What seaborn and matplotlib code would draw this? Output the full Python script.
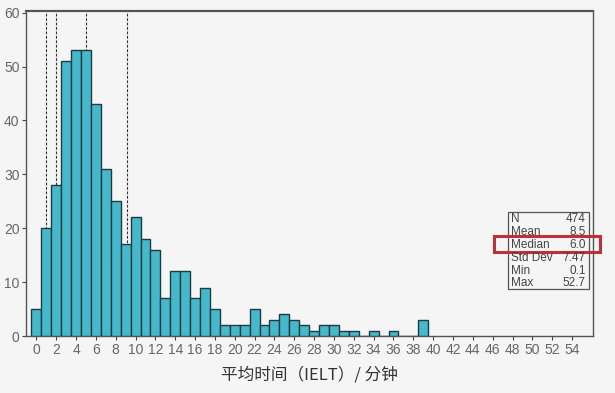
import matplotlib
matplotlib.use("Agg")
import matplotlib.pyplot as plt
import seaborn as sns
import pandas as pd
from matplotlib.patches import Rectangle

# Data (bin centre in minutes, count)
bin_centers = list(range(0, 40))
counts = [5, 20, 28, 51, 53, 53, 43, 31, 25, 17,
          22, 18, 16, 7, 12, 12, 7, 9, 5, 2,
          2, 2, 5, 2, 3, 4, 3, 2, 1, 2,
          2, 1, 1, 0, 1, 0, 1, 0, 0, 3]
ref_lines = [1.0, 2.0, 5.0, 9.1]
x_ticks = list(range(0, 56, 2))
y_ticks = [0, 10, 20, 30, 40, 50, 60]
stat_names = ["N", "Mean", "Median", "Std Dev", "Min", "Max"]
stat_values = ["474", "8.5", "6.0", "7.47", "0.1", "52.7"]
x_label = "平均时间（IELT）/ 分钟"

df = pd.DataFrame({"t": bin_centers, "n": counts})

sns.set_theme(style="white")
plt.rcParams["font.family"] = ["Noto Sans CJK SC", "DejaVu Sans"]

bg = "#f5f5f5"
fig = plt.figure(figsize=(6.15, 3.93), dpi=100, facecolor=bg)
ax = fig.add_axes([0.043, 0.145, 0.921, 0.827], facecolor=bg)

sns.histplot(data=df, x="t", weights="n", discrete=True, ax=ax,
             color="#45b8cc", alpha=1.0, edgecolor="#1f3a40", linewidth=1.0,
             zorder=3)

for xv in ref_lines:
    ax.axvline(xv, color="#333333", linestyle=(0, (2.5, 1.5)), linewidth=0.8, zorder=1)

ax.set_xlim(-1.0, 56.1)
ax.set_ylim(0, 60.3)
ax.set_xticks(x_ticks)
ax.set_xticklabels([str(v) for v in x_ticks])
ax.set_yticks(y_ticks)
ax.tick_params(axis="both", direction="out", length=3, width=0.8,
               colors="#444444", labelsize=10, labelcolor="#666666", pad=2)
ax.tick_params(axis="x", bottom=True)
ax.tick_params(axis="y", left=True)
for lbl in ax.get_xticklabels() + ax.get_yticklabels():
    lbl.set_family(["Liberation Sans", "DejaVu Sans"])
ax.set_ylabel("")
ax.set_xlabel(x_label, fontsize=12, color="#333333", labelpad=7)

for side in ["left", "bottom", "right", "top"]:
    ax.spines[side].set_visible(True)
    ax.spines[side].set_color("#555555")
    ax.spines[side].set_linewidth(1.0)
ax.spines["top"].set_linewidth(1.6)

# Statistics box
box_x0, box_y0 = 508 / 615, 1 - 289 / 393
box_w, box_h = 81 / 615, 77 / 393
fig.patches.append(Rectangle((box_x0, box_y0), box_w, box_h, transform=fig.transFigure,
                             facecolor="none", edgecolor="#555555", linewidth=0.9))
row_h = box_h / 6.0
for i, (nm, vl) in enumerate(zip(stat_names, stat_values)):
    yc = box_y0 + box_h - row_h * (i + 0.5) - 0.002
    fig.text(box_x0 + 0.005, yc, nm, fontsize=8.5, color="#444444",
             va="center", ha="left", family=["Liberation Sans", "DejaVu Sans"])
    fig.text(box_x0 + box_w - 0.005, yc, vl, fontsize=8.5, color="#444444",
             va="center", ha="right", family=["Liberation Sans", "DejaVu Sans"])

# Red highlight around the median row
fig.patches.append(Rectangle((494 / 615, 1 - 252 / 393), 106 / 615, 16 / 393,
                             transform=fig.transFigure, facecolor="none",
                             edgecolor="#c0303a", linewidth=2.2))

fig.savefig("out.png", dpi=100, facecolor=bg)
